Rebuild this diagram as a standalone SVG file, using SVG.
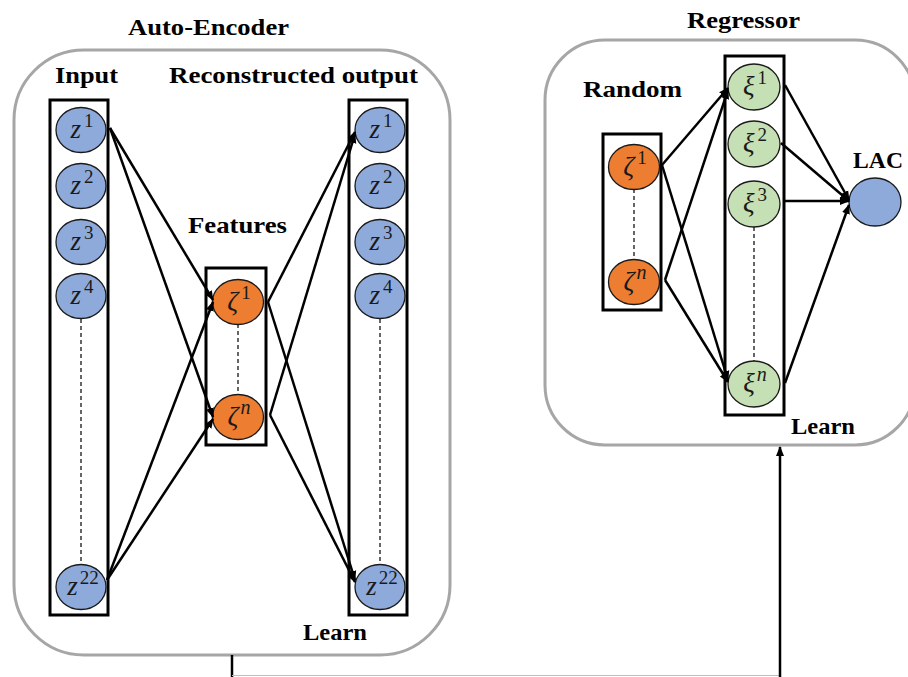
<svg xmlns="http://www.w3.org/2000/svg" width="908" height="677" viewBox="0 0 908 677">
<style>
.box{fill:#fff;stroke:#a6a6a6;stroke-width:3}
.col{fill:none;stroke:#000;stroke-width:3}
.t{font-family:"Liberation Serif","Times New Roman",serif;font-weight:bold;font-size:24px;fill:#000}
.m{font-family:"Liberation Serif","Times New Roman",serif;font-style:italic;font-size:27px;fill:#1a1a1a}
.sup{font-style:normal;font-size:19px}
.supn{font-size:20px}
.b{fill:#8eaadb;stroke:#1a1a1a;stroke-width:1.3}
.o{fill:#ed7d31;stroke:#1a1a1a;stroke-width:1.3}
.g{fill:#c5e0b4;stroke:#1a1a1a;stroke-width:1.3}
.d{stroke:#000;stroke-width:1.2;stroke-dasharray:4 3;fill:none}
.c{stroke:#000;stroke-width:2.5;fill:none;marker-end:url(#ah)}
</style>
<defs>
<marker id="ah" markerUnits="userSpaceOnUse" markerWidth="10" markerHeight="10" viewBox="0 0 10 10" refX="9" refY="5" orient="auto">
<path d="M0,1 L10,5 L0,9 Z" fill="#000"/>
</marker>
</defs>

<g id="autoencoder">
<rect class="box" x="14" y="50" width="436" height="605" rx="70"/>
<text class="t" x="128" y="35" textLength="161" lengthAdjust="spacingAndGlyphs">Auto-Encoder</text>
<text class="t" x="55" y="83" textLength="63" lengthAdjust="spacingAndGlyphs">Input</text>
<text class="t" x="169" y="83" textLength="249" lengthAdjust="spacingAndGlyphs">Reconstructed output</text>
<text class="t" x="188" y="233" textLength="99" lengthAdjust="spacingAndGlyphs">Features</text>
<text class="t" x="303" y="640" textLength="64" lengthAdjust="spacingAndGlyphs">Learn</text>
</g>

<g id="input">
<rect class="col" x="50" y="100" width="58" height="515"/>
<line class="d" x1="81" y1="319" x2="81" y2="565"/>
<g id="in-z1"><ellipse class="b" cx="81" cy="130" rx="25" ry="22.5"/><text class="m" x="82" y="138" text-anchor="middle">z<tspan class="sup" dx="3" dy="-11">1</tspan></text></g>
<g id="in-z2"><ellipse class="b" cx="81" cy="186" rx="25" ry="22.5"/><text class="m" x="82" y="194" text-anchor="middle">z<tspan class="sup" dx="3" dy="-11">2</tspan></text></g>
<g id="in-z3"><ellipse class="b" cx="81" cy="242" rx="25" ry="22.5"/><text class="m" x="82" y="250" text-anchor="middle">z<tspan class="sup" dx="3" dy="-11">3</tspan></text></g>
<g id="in-z4"><ellipse class="b" cx="81" cy="296" rx="25" ry="22.5"/><text class="m" x="82" y="304" text-anchor="middle">z<tspan class="sup" dx="3" dy="-11">4</tspan></text></g>
<g id="in-z22"><ellipse class="b" cx="81" cy="587" rx="25" ry="22.5"/><text class="m" x="83" y="595" text-anchor="middle">z<tspan class="sup" dx="2" dy="-11">22</tspan></text></g>
</g>

<g id="features">
<rect class="col" x="206" y="268" width="60" height="177"/>
<line class="d" x1="238" y1="324" x2="238" y2="395"/>
<g id="f-zeta1"><ellipse class="o" cx="238" cy="302" rx="25.5" ry="22.5"/><text class="m" x="239" y="310" text-anchor="middle">ζ<tspan class="sup" dx="3" dy="-11">1</tspan></text></g>
<g id="f-zetan"><ellipse class="o" cx="238" cy="417" rx="25.5" ry="22.5"/><text class="m" x="239" y="425" text-anchor="middle">ζ<tspan class="supn" dx="2" dy="-11">n</tspan></text></g>
</g>

<g id="output">
<rect class="col" x="349" y="100" width="58" height="515"/>
<line class="d" x1="380" y1="319" x2="380" y2="565"/>
<g id="out-z1"><ellipse class="b" cx="380" cy="130" rx="25" ry="22.5"/><text class="m" x="381" y="138" text-anchor="middle">z<tspan class="sup" dx="3" dy="-11">1</tspan></text></g>
<g id="out-z2"><ellipse class="b" cx="380" cy="186" rx="25" ry="22.5"/><text class="m" x="381" y="194" text-anchor="middle">z<tspan class="sup" dx="3" dy="-11">2</tspan></text></g>
<g id="out-z3"><ellipse class="b" cx="380" cy="242" rx="25" ry="22.5"/><text class="m" x="381" y="250" text-anchor="middle">z<tspan class="sup" dx="3" dy="-11">3</tspan></text></g>
<g id="out-z4"><ellipse class="b" cx="380" cy="296" rx="25" ry="22.5"/><text class="m" x="381" y="304" text-anchor="middle">z<tspan class="sup" dx="3" dy="-11">4</tspan></text></g>
<g id="out-z22"><ellipse class="b" cx="380" cy="587" rx="25" ry="22.5"/><text class="m" x="382" y="595" text-anchor="middle">z<tspan class="sup" dx="2" dy="-11">22</tspan></text></g>
</g>

<g id="regressor">
<rect class="box" x="545" y="40" width="370" height="405" rx="60"/>
<text class="t" x="687" y="28" textLength="113" lengthAdjust="spacingAndGlyphs">Regressor</text>
<text class="t" x="583" y="97" textLength="99" lengthAdjust="spacingAndGlyphs">Random</text>
<text class="t" x="853" y="168" textLength="50" lengthAdjust="spacingAndGlyphs">LAC</text>
<text class="t" x="791" y="434" textLength="64" lengthAdjust="spacingAndGlyphs">Learn</text>
</g>

<g id="random">
<rect class="col" x="603" y="134" width="58" height="176"/>
<line class="d" x1="634" y1="189" x2="634" y2="260"/>
<g id="r-zeta1"><ellipse class="o" cx="634" cy="167" rx="25.5" ry="22.5"/><text class="m" x="635" y="175" text-anchor="middle">ζ<tspan class="sup" dx="3" dy="-11">1</tspan></text></g>
<g id="r-zetan"><ellipse class="o" cx="634" cy="282" rx="25.5" ry="22.5"/><text class="m" x="635" y="290" text-anchor="middle">ζ<tspan class="supn" dx="2" dy="-11">n</tspan></text></g>
</g>

<g id="hidden">
<rect class="col" x="725" y="56" width="59" height="359"/>
<line class="d" x1="754" y1="227" x2="754" y2="361"/>
<g id="xi1"><ellipse class="g" cx="754" cy="87" rx="26" ry="23"/><text class="m" x="755" y="95" text-anchor="middle">ξ<tspan class="sup" dx="3" dy="-11">1</tspan></text></g>
<g id="xi2"><ellipse class="g" cx="754" cy="144" rx="26" ry="23"/><text class="m" x="755" y="152" text-anchor="middle">ξ<tspan class="sup" dx="3" dy="-11">2</tspan></text></g>
<g id="xi3"><ellipse class="g" cx="754" cy="204" rx="26" ry="23"/><text class="m" x="755" y="212" text-anchor="middle">ξ<tspan class="sup" dx="3" dy="-11">3</tspan></text></g>
<g id="xin"><ellipse class="g" cx="754" cy="384" rx="26" ry="23"/><text class="m" x="755" y="392" text-anchor="middle">ξ<tspan class="supn" dx="2" dy="-11">n</tspan></text></g>
</g>

<g id="lac"><ellipse class="b" cx="875" cy="202" rx="26" ry="24"/></g>

<g id="connectors">
<line class="c" x1="110" y1="128" x2="213" y2="300"/>
<line class="c" x1="110" y1="128" x2="213" y2="417"/>
<line class="c" x1="107" y1="580" x2="213" y2="302"/>
<line class="c" x1="107" y1="580" x2="213" y2="419"/>
<line class="c" x1="268" y1="302" x2="355" y2="132"/>
<line class="c" x1="268" y1="302" x2="355" y2="580"/>
<line class="c" x1="270" y1="415" x2="355" y2="134"/>
<line class="c" x1="270" y1="415" x2="355" y2="582"/>
<line class="c" x1="662" y1="165" x2="728" y2="88"/>
<line class="c" x1="662" y1="165" x2="728" y2="380"/>
<line class="c" x1="665" y1="280" x2="728" y2="90"/>
<line class="c" x1="665" y1="280" x2="728" y2="382"/>
<line class="c" x1="785" y1="85" x2="849" y2="200"/>
<line class="c" x1="781" y1="143" x2="849" y2="201"/>
<line class="c" x1="785" y1="201" x2="849" y2="201"/>
<line class="c" x1="785" y1="383" x2="849" y2="205"/>
<line x1="232" y1="655" x2="232" y2="677" stroke="#000" stroke-width="2.5"/>
<line x1="232" y1="675.5" x2="780" y2="675.5" stroke="#bfbfbf" stroke-width="1.2"/>
<line class="c" x1="780" y1="677" x2="780" y2="447"/>
</g>
</svg>
